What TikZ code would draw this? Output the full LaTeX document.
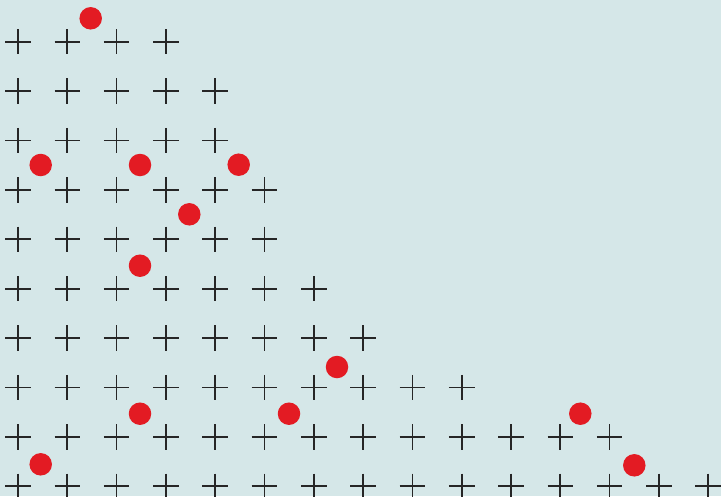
\documentclass[tikz,border=0pt]{standalone}
\definecolor{bgc}{HTML}{D5E7E8}
\definecolor{dotred}{HTML}{E31B23}
\definecolor{plusc}{HTML}{262626}
\begin{document}
\begin{tikzpicture}[x=1pt,y=-1pt,
  plusmark/.style={draw=plusc,line width=1.7pt},
  reddot/.style={circle,fill=dotred,inner sep=0pt,minimum size=22.5pt}]
\fill[bgc] (0,0) rectangle (721,496);
\useasboundingbox (0,0) rectangle (721,496);
\begin{scope}
\clip (0,0) rectangle (721,496);
% rows: y values and number of pluses
\foreach \yy/\n [count=\r] in {41.7/4,91.1/5,140.5/5,189.9/6,239.3/6,288.7/7,338.1/8,387.5/10,436.9/13,486.3/15}{
  \foreach \c in {1,...,\n}{
    \pgfmathsetmacro{\xx}{18+49.3*(\c-1)}
    \coordinate (p-\r-\c) at (\xx,\yy);
    \draw[plusmark] ([xshift=-12.8pt]p-\r-\c) -- ([xshift=12.8pt]p-\r-\c);
    \draw[plusmark] ([yshift=12.7pt]p-\r-\c) -- ([yshift=-12.7pt]p-\r-\c);
  }
}
\node[reddot] (d1) at (90.7,18.3) {};
\node[reddot] (d2) at (40.7,165) {};
\node[reddot] (d3) at (140,165) {};
\node[reddot] (d4) at (238.7,164.7) {};
\node[reddot] (d5) at (189.3,214.3) {};
\node[reddot] (d6) at (140,265.7) {};
\node[reddot] (d7) at (337,367) {};
\node[reddot] (d8) at (140,413.7) {};
\node[reddot] (d9) at (289,413.7) {};
\node[reddot] (d10) at (580.3,413.7) {};
\node[reddot] (d11) at (40.7,464.3) {};
\node[reddot] (d12) at (634.3,465.3) {};
\end{scope}
\end{tikzpicture}
\end{document}
